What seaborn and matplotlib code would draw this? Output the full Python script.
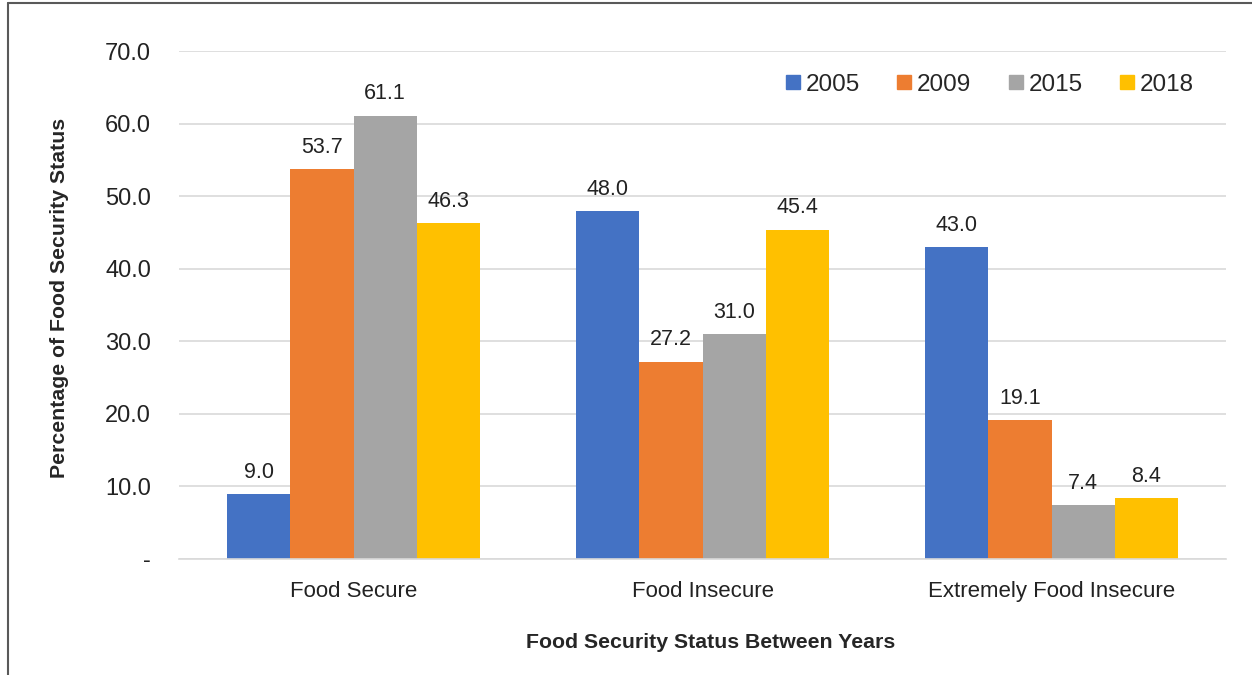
import matplotlib
matplotlib.use("Agg")
import matplotlib.pyplot as plt
import seaborn as sns
import pandas as pd
from matplotlib.lines import Line2D

categories = ["Food Secure", "Food Insecure", "Extremely Food Insecure"]
years = ["2005", "2009", "2015", "2018"]
v2005 = [9.0, 48.0, 43.0]
v2009 = [53.7, 27.2, 19.1]
v2015 = [61.1, 31.0, 7.4]
v2018 = [46.3, 45.4, 8.4]
yticks = [0, 10, 20, 30, 40, 50, 60, 70]
ytick_labels = ["-", "10.0", "20.0", "30.0", "40.0", "50.0", "60.0", "70.0"]
colors = ["#4472C4", "#ED7D31", "#A5A5A5", "#FFC000"]

rows = []
for yr, vals in zip(years, [v2005, v2009, v2015, v2018]):
    for c, v in zip(categories, vals):
        rows.append({"Category": c, "Year": yr, "Value": v})
df = pd.DataFrame(rows)

sns.set_style("white")
plt.rcParams["font.family"] = ["Liberation Sans", "DejaVu Sans"]

fig = plt.figure(figsize=(12.52, 6.75), dpi=100)
ax = fig.add_axes([179/1252, 1-559/675, (1226-179)/1252, (559-51)/675])

sns.barplot(data=df, x="Category", y="Value", hue="Year", palette=colors,
            width=0.725, saturation=1, ax=ax, linewidth=0, errorbar=None)

for cont in ax.containers:
    ax.bar_label(cont, fmt="%.1f", padding=8, fontsize=15.5, color="#222222")

ax.set_ylim(0, 70)
ax.set_xlim(-0.5, 2.5)
ax.set_yticks(yticks)
ax.set_yticklabels(ytick_labels)
ax.yaxis.grid(True, color="#D9D9D9", linewidth=1.2)
ax.set_axisbelow(True)
for s in ["top", "right", "left"]:
    ax.spines[s].set_visible(False)
ax.spines["bottom"].set_color("#D9D9D9")
ax.spines["bottom"].set_linewidth(1.2)
ax.tick_params(axis="y", length=0, pad=20, labelsize=17, labelcolor="#222222")
ax.tick_params(axis="x", length=0, pad=15.5, labelsize=16, labelcolor="#222222")
ax.set_xticks([0, 1, 2])
ax.set_xticklabels(categories)
ax.set_xticks([-0.5, 0.5, 1.5, 2.5], minor=True)
ax.tick_params(axis="x", which="minor", length=6, color="#D9D9D9", width=1.2)

ax.set_xlabel("Food Security Status Between Years", fontsize=15.3, fontweight="bold")
ax.set_ylabel("Percentage of Food Security Status", fontsize=15.3, fontweight="bold")
ax.xaxis.set_label_coords((711 - 179) / 1047, -(633 - 559) / 508)
ax.yaxis.set_label_coords(-(179 - 69) / 1047, (559 - 298) / 508)

handles = [Line2D([], [], marker="s", linestyle="", markersize=9.4, markerfacecolor=c,
                  markeredgecolor=c) for c in colors]
ax.legend(handles, years, loc="upper right", bbox_to_anchor=(0.99, 0.998), ncol=4,
          frameon=False, fontsize=17.5, handletextpad=0.13, columnspacing=1.42,
          handlelength=0.8)

# chart border
fig.add_artist(Line2D([8/1252, 8/1252], [0, 1-3/675], color="#595959", linewidth=1.5))
fig.add_artist(Line2D([8/1252, 1], [1-3/675, 1-3/675], color="#595959", linewidth=1.5))

fig.savefig("out.png", dpi=100)
